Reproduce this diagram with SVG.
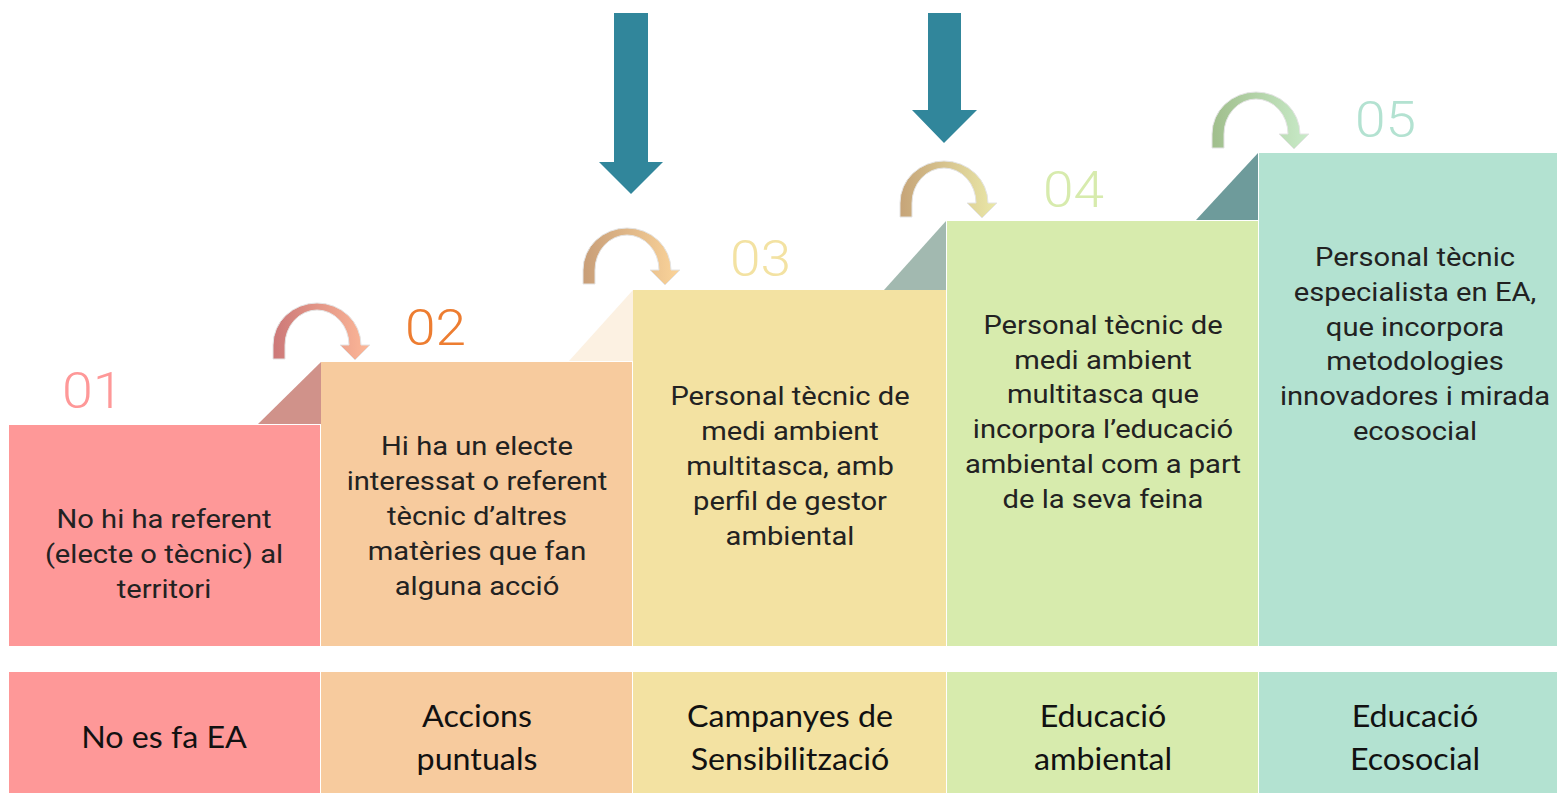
<svg xmlns="http://www.w3.org/2000/svg" width="1557" height="793" viewBox="0 0 1557 793">
<style>
.t{font-family:Roboto,"Liberation Sans",sans-serif;font-size:26.5px;fill:#222;text-anchor:middle}
.n{font-family:Roboto,"Liberation Sans",sans-serif;font-size:50px;font-weight:300;text-anchor:start}
.b{font-family:Lato,"Open Sans",sans-serif;font-size:31px;fill:#111;text-anchor:middle}
.c1{fill:#FE9898}.c2{fill:#F7CB9E}.c3{fill:#F3E2A2}.c4{fill:#D7EBAD}.c5{fill:#B3E2D1}
.blue{fill:#31869B}
</style>
<defs>
<path id="curv" d="M0,56 L0,42 A44,42 0 0 1 88,42 L97,42 L82,57 L67,42 L76,42 A32,35 0 0 0 12,42 L12,56 Z" stroke="#e4e4e4" stroke-width="1"/>
<linearGradient id="g1" x1="0" y1="0" x2="1" y2="0"><stop offset="0" stop-color="#CC7878"/><stop offset="1" stop-color="#FDB898"/></linearGradient>
<linearGradient id="g2" x1="0" y1="0" x2="1" y2="0"><stop offset="0" stop-color="#C89E78"/><stop offset="1" stop-color="#FBD49A"/></linearGradient>
<linearGradient id="g3" x1="0" y1="0" x2="1" y2="0"><stop offset="0" stop-color="#C6A478"/><stop offset="1" stop-color="#EAE8A8"/></linearGradient>
<linearGradient id="g4" x1="0" y1="0" x2="1" y2="0"><stop offset="0" stop-color="#A0BE8C"/><stop offset="1" stop-color="#C9EBC9"/></linearGradient>
</defs>
<rect width="1557" height="793" fill="#fff"/>

<g id="step1">
<polygon points="258,424 321,362 321,424" fill="#D0928A"/>
<rect class="c1" x="9" y="425" width="311" height="221"/>
<text class="n" transform="translate(62,408) scale(1.11,1)" fill="#FE9898">01</text>
<g transform="translate(164,0) scale(1.1,1)">
<text class="t" x="0" y="528">No hi ha referent</text>
<text class="t" x="0" y="563">(electe o tècnic) al</text>
<text class="t" x="0" y="598">territori</text>
</g>
</g>
<g id="step2">
<polygon points="569,361 633,290 633,361" fill="#FCF1E2"/>
<rect class="c2" x="321" y="362" width="311" height="284"/>
<text class="n" transform="translate(405,345) scale(1.1,1)" fill="#ED7D31">02</text>
<g transform="translate(477,0) scale(1.1,1)">
<text class="t" x="0" y="455">Hi ha un electe</text>
<text class="t" x="0" y="490">interessat o referent</text>
<text class="t" x="0" y="525">tècnic d’altres</text>
<text class="t" x="0" y="560">matèries que fan</text>
<text class="t" x="0" y="595">alguna acció</text>
</g>
</g>
<g id="step3">
<polygon points="884,290 946,221 946,290" fill="#A2B9B0"/>
<rect class="c3" x="633" y="290" width="313" height="356"/>
<text class="n" transform="translate(730,276) scale(1.1,1)" fill="#F3E2A2">03</text>
<g transform="translate(790,0) scale(1.1,1)">
<text class="t" x="0" y="405">Personal tècnic de</text>
<text class="t" x="0" y="440">medi ambient</text>
<text class="t" x="0" y="475">multitasca, amb</text>
<text class="t" x="0" y="510">perfil de gestor</text>
<text class="t" x="0" y="545">ambiental</text>
</g>
</g>
<g id="step4">
<polygon points="1196,220 1258,153 1258,220" fill="#6E9B9B"/>
<rect class="c4" x="947" y="221" width="311" height="425"/>
<text class="n" transform="translate(1043,207) scale(1.1,1)" fill="#D7EBAD">04</text>
<g transform="translate(1103,0) scale(1.1,1)">
<text class="t" x="0" y="334">Personal tècnic de</text>
<text class="t" x="0" y="369">medi ambient</text>
<text class="t" x="0" y="403">multitasca que</text>
<text class="t" x="0" y="438">incorpora l’educació</text>
<text class="t" x="0" y="473">ambiental com a part</text>
<text class="t" x="0" y="508">de la seva feina</text>
</g>
</g>
<g id="step5">
<rect class="c5" x="1259" y="153" width="298" height="493"/>
<text class="n" transform="translate(1355,137) scale(1.1,1)" fill="#B3E2D1">05</text>
<g transform="translate(1415,0) scale(1.1,1)">
<text class="t" x="0" y="266">Personal tècnic</text>
<text class="t" x="0" y="301">especialista en EA,</text>
<text class="t" x="0" y="336">que incorpora</text>
<text class="t" x="0" y="370">metodologies</text>
<text class="t" x="0" y="405">innovadores i mirada</text>
<text class="t" x="0" y="440">ecosocial</text>
</g>
</g>

<g id="label1"><rect class="c1" x="9" y="672" width="311" height="121"/><g transform="translate(164,0) scale(1.04,1)"><text class="b" x="0" y="748">No es fa EA</text></g></g>
<g id="label2"><rect class="c2" x="321" y="672" width="311" height="121"/><g transform="translate(477,0) scale(1.04,1)"><text class="b" x="0" y="727">Accions</text><text class="b" x="0" y="770">puntuals</text></g></g>
<g id="label3"><rect class="c3" x="633" y="672" width="313" height="121"/><g transform="translate(790,0) scale(1.04,1)"><text class="b" x="0" y="727">Campanyes de</text><text class="b" x="0" y="770">Sensibilització</text></g></g>
<g id="label4"><rect class="c4" x="947" y="672" width="311" height="121"/><g transform="translate(1103,0) scale(1.04,1)"><text class="b" x="0" y="727">Educació</text><text class="b" x="0" y="770">ambiental</text></g></g>
<g id="label5"><rect class="c5" x="1259" y="672" width="298" height="121"/><g transform="translate(1415,0) scale(1.04,1)"><text class="b" x="0" y="727">Educació</text><text class="b" x="0" y="770">Ecosocial</text></g></g>

<g id="connectors">
<use href="#curv" transform="translate(273,303)" fill="url(#g1)"/>
<use href="#curv" transform="translate(583,228)" fill="url(#g2)"/>
<use href="#curv" transform="translate(900,161)" fill="url(#g3)"/>
<use href="#curv" transform="translate(1212,92)" fill="url(#g4)"/>
<polygon class="blue" points="614,13 648,13 648,162 663,162 631,194 599,162 614,162"/>
<polygon class="blue" points="928,13 961,13 961,110 977,110 944,143 912,110 928,110"/>
</g>
</svg>
